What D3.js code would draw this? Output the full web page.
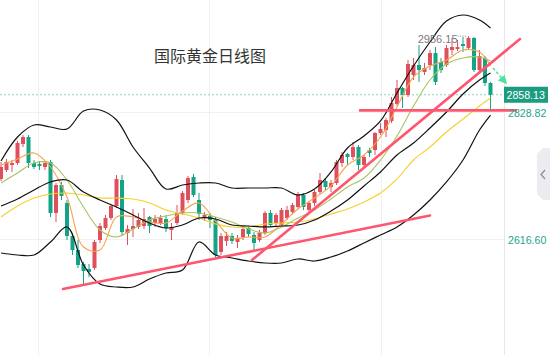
<!DOCTYPE html>
<html><head><meta charset="utf-8">
<script src="https://cdn.jsdelivr.net/npm/d3@7"></script>
<style>html,body{margin:0;padding:0;background:#fff;overflow:hidden}svg{display:block}</style>
</head><body>
<svg id="chart" width="550" height="355"></svg>
<script>
// ---------- data ----------
const chartTitle = "国际黄金日线图";
const opens = [2717.4,2732.4,2740.8,2744.1,2775.8,2787.5,2744.1,2742.4,2737.4,2745.8,
2660.6,2707.3,2677.3,2622.1,2598.7,2575.3,2567.0,2568.6,2615.4,2635.5,
2652.2,2672.2,2715.7,2627.1,2633.8,2637.2,2638.8,2653.9,2643.8,2643.8,
2650.5,2632.1,2643.8,2660.6,2682.3,2720.7,2682.3,2652.2,2655.5,2648.9,
2595.4,2613.8,2622.1,2612.1,2620.4,2635.5,2623.8,2615.4,2627.1,2660.6,
2643.8,2640.5,2652.2,2662.2,2670.6,2690.6,2665.6,2677.3,2695.6,2714.0,
2704.0,2710.7,2744.1,2759.1,2754.1,2770.8,2740.8,2765.8,2765.8,2794.2,
2799.2,2814.3,2842.7,2869.4,2857.7,2891.1,2907.9,2896.2,2907.9,2927.9,
2912.9,2907.9,2932.9,2934.6,2942.9,2936.3,2953.0,2899.5,2919.6,2877.8];
const highs = [2745.8,2750.8,2749.1,2780.9,2790.9,2790.9,2749.1,2747.4,2747.4,2749.1,
2710.7,2712.4,2682.3,2627.1,2615.4,2578.7,2575.3,2615.4,2643.8,2657.2,
2675.6,2724.0,2724.0,2640.5,2667.2,2660.6,2668.9,2655.5,2657.2,2657.2,
2657.2,2643.8,2673.9,2697.3,2722.4,2725.7,2694.0,2662.2,2660.6,2653.9,
2627.1,2628.8,2627.1,2623.8,2638.8,2638.8,2628.8,2632.1,2663.9,2665.6,
2660.6,2668.9,2672.2,2677.3,2695.6,2694.0,2680.6,2699.0,2727.4,2719.0,
2715.7,2749.1,2762.5,2760.8,2779.2,2774.2,2757.5,2769.2,2795.9,2810.9,
2819.3,2854.4,2882.8,2871.1,2916.2,2919.6,2941.3,2911.2,2932.9,2937.9,
2919.6,2941.3,2953.0,2949.6,2954.6,2956.15,2954.6,2932.9,2922.9,2879.5];
const lows = [2714.0,2729.1,2729.1,2740.8,2770.8,2735.7,2734.1,2732.4,2732.4,2653.9,
2645.5,2682.3,2615.4,2590.4,2568.6,2541.9,2553.6,2565.3,2610.4,2632.1,
2648.9,2668.9,2622.1,2607.1,2620.4,2633.8,2633.8,2627.1,2637.2,2640.5,
2628.8,2615.4,2640.5,2657.2,2677.3,2687.3,2648.9,2647.2,2635.5,2587.0,
2590.4,2605.4,2608.8,2602.1,2615.4,2620.4,2598.7,2612.1,2623.8,2637.2,
2638.8,2637.2,2648.9,2658.9,2667.2,2665.6,2660.6,2672.2,2692.3,2699.0,
2695.6,2707.3,2737.4,2740.8,2749.1,2732.4,2737.4,2754.1,2757.5,2790.9,
2787.5,2810.9,2839.3,2836.0,2854.4,2882.8,2879.5,2891.1,2899.5,2874.4,
2894.5,2904.5,2924.6,2931.3,2929.6,2932.9,2896.2,2896.2,2872.8,2832.7];
const closes = [2737.4,2745.8,2744.1,2777.5,2787.5,2744.1,2737.4,2739.1,2744.1,2660.6,
2707.3,2689.0,2622.1,2598.7,2573.7,2563.6,2562.0,2612.1,2638.8,2652.2,
2672.2,2717.4,2628.8,2633.8,2638.8,2648.9,2650.5,2638.8,2650.5,2652.2,
2635.5,2637.2,2660.6,2694.0,2719.0,2690.6,2658.9,2657.2,2648.9,2590.4,
2622.1,2622.1,2613.8,2618.8,2633.8,2625.5,2610.4,2627.1,2660.6,2640.5,
2657.2,2665.6,2665.6,2673.9,2692.3,2670.6,2677.3,2695.6,2715.7,2704.0,
2710.7,2745.8,2757.5,2754.1,2770.8,2740.8,2754.1,2760.8,2794.2,2800.9,
2816.0,2844.4,2869.4,2857.7,2909.5,2907.9,2899.5,2902.8,2927.9,2879.5,
2899.5,2936.3,2937.9,2937.9,2939.6,2953.0,2899.5,2922.9,2877.8,2858.13];

// indicator lines, sampled at these bar indices
const lineIdx = [0,3,6,9,12,15,18,21,24,27,30,33,36,39,42,45,48,51,54,57,60,63,66,69,72,75,78,81,84,87,89];
const bollUpper = [2747.4,2787.5,2807.6,2804.3,2800.9,2831.0,2832.7,2816.0,2770.8,2735.7,
2700.7,2707.3,2710.7,2710.7,2702.3,2702.3,2702.3,2702.3,2690.6,2700.7,
2729.1,2769.2,2789.2,2814.3,2861.1,2906.2,2946.3,2981.4,2991.4,2983.1,2969.7];
const bollMid = [2672.2,2683.9,2699.0,2712.4,2715.7,2695.6,2682.3,2670.6,2657.2,2643.8,
2635.5,2640.5,2652.2,2650.5,2640.5,2638.8,2637.2,2638.8,2640.5,2648.9,
2663.9,2682.3,2705.7,2729.1,2757.5,2777.5,2802.6,2829.3,2859.4,2882.8,2894.5];
const bollLower = [2593.7,2590.4,2590.4,2612.1,2637.2,2573.7,2541.9,2536.9,2536.9,2550.3,
2560.3,2565.3,2612.1,2590.4,2585.4,2580.3,2577.0,2577.0,2583.7,2580.3,
2587.0,2597.1,2610.4,2623.8,2637.2,2657.2,2682.3,2712.4,2749.1,2799.2,2824.3];
const ma5 = [2740.8,2750.8,2760.8,2737.4,2687.3,2603.7,2598.7,2653.9,2653.9,2645.5,
2643.8,2663.9,2677.3,2647.2,2618.8,2620.4,2620.4,2642.2,2667.2,2685.6,
2705.7,2740.8,2757.5,2787.5,2837.7,2887.8,2906.2,2916.2,2932.9,2929.6,2906.2];
const ma10 = [2710.7,2727.4,2744.1,2744.1,2715.7,2670.6,2632.1,2620.4,2633.8,2648.9,
2655.5,2660.6,2660.6,2653.9,2645.5,2633.8,2627.1,2637.2,2652.2,2665.6,
2683.9,2704.0,2719.0,2749.1,2789.2,2839.3,2882.8,2909.5,2919.6,2921.2,2914.5];
const ma30 = [2653.9,2672.2,2685.6,2692.3,2694.0,2690.6,2685.6,2685.6,2683.9,2677.3,
2665.6,2658.9,2652.2,2642.2,2637.2,2637.2,2642.2,2643.8,2645.5,2650.5,
2658.9,2667.2,2678.9,2694.0,2717.4,2749.1,2770.8,2795.9,2817.6,2839.3,2852.7];

// annotations (bar index, price)
const trendStartIdx = [11.27, 45.64];
const trendStartVal = [2533.5, 2582.0];
const trendEndIdx = [78.0, 94.36];
const trendEndVal = [2656.4, 2951.3];
const supportLevel = 2832.0;
const supportIdx = [65.1, 93.8];
const arrowIdx = [89.45, 91.8];
const arrowVal = [2902.8, 2877.8];

const yTicks = [2616.60, 2828.82];
const xGridIdx = [6.73, 37.8, 69.1];
const lastPrice = 2858.13;
const highPrice = 2956.15;
const highIdx = 85;

// ---------- drawing ----------
const svg = d3.select("#chart");
const W = 550, H = 355, plotR = 504;
const x = d3.scaleLinear().domain([0, 89]).range([1, 490.5]);
const y = d3.scaleLinear().domain([2616.6, 2828.82]).range([239.3, 112.3]);
const UP = "#e0505c", DOWN = "#13a385";
const numFont = "'Liberation Sans', Arial, sans-serif";

// grid
const grid = svg.append("g");
grid.selectAll("line.v").data(xGridIdx).join("line")
  .attr("x1", d => Math.round(x(d)) + 0.5).attr("x2", d => Math.round(x(d)) + 0.5)
  .attr("y1", 0).attr("y2", H).attr("stroke", "#f0f0f0").attr("stroke-width", 1);
grid.selectAll("line.h").data(yTicks).join("line")
  .attr("x1", 0).attr("x2", plotR)
  .attr("y1", d => Math.round(y(d)) + 0.5).attr("y2", d => Math.round(y(d)) + 0.5)
  .attr("stroke", "#f0f0f0").attr("stroke-width", 1);
svg.append("line").attr("x1", plotR + 0.5).attr("x2", plotR + 0.5).attr("y1", 0).attr("y2", H)
  .attr("stroke", "#e8e8e8");

// title
svg.append("text").attr("x", 154).attr("y", 62).text(chartTitle)
  .attr("font-family", "'Noto Sans CJK SC', sans-serif").attr("font-size", 16).attr("fill", "#333");

// current price dotted line
svg.append("line").attr("x1", 0).attr("x2", plotR).attr("y1", y(lastPrice)).attr("y2", y(lastPrice))
  .attr("stroke", "#8ad3c4").attr("stroke-width", 1).attr("stroke-dasharray", "2,2");

// candles
const bars = d3.range(opens.length).map(i => ({i, o: opens[i], h: highs[i], l: lows[i], c: closes[i]}));
const bw = 4;
const cg = svg.append("g");
cg.selectAll("line").data(bars).join("line")
  .attr("x1", d => x(d.i)).attr("x2", d => x(d.i))
  .attr("y1", d => y(d.h)).attr("y2", d => y(d.l))
  .attr("stroke", d => d.c >= d.o ? UP : DOWN).attr("stroke-width", 1);
cg.selectAll("rect").data(bars).join("rect")
  .attr("x", d => x(d.i) - bw / 2).attr("width", bw)
  .attr("y", d => y(Math.max(d.o, d.c)))
  .attr("height", d => Math.max(1, Math.abs(y(d.o) - y(d.c))))
  .attr("fill", d => d.c >= d.o ? UP : DOWN);

// indicator lines
const lineGen = d3.line().x(d => x(d[0])).y(d => y(d[1])).curve(d3.curveCatmullRom.alpha(0.5));
const series = [
  {v: ma30, c: "#f7cf2a", w: 1.1},
  {v: ma10, c: "#a9c35f", w: 1.1},
  {v: ma5, c: "#f7a24e", w: 1.1},
  {v: bollLower, c: "#111", w: 1.2},
  {v: bollMid, c: "#111", w: 1.2},
  {v: bollUpper, c: "#111", w: 1.2}
];
series.forEach(s => {
  svg.append("path").datum(lineIdx.map((k, j) => [k, s.v[j]]))
    .attr("d", lineGen).attr("fill", "none").attr("stroke", s.c).attr("stroke-width", s.w);
});

// trend lines
const tl = trendStartIdx.map((d, k) => ({x1: d, y1: trendStartVal[k], x2: trendEndIdx[k], y2: trendEndVal[k]}));
svg.selectAll("line.trend").data(tl).join("line")
  .attr("x1", d => x(d.x1)).attr("y1", d => y(d.y1)).attr("x2", d => x(d.x2)).attr("y2", d => y(d.y2))
  .attr("stroke", "#ff5670").attr("stroke-width", 2.6).attr("stroke-linecap", "round");
svg.append("line").attr("x1", x(supportIdx[0])).attr("x2", x(supportIdx[1]))
  .attr("y1", y(supportLevel)).attr("y2", y(supportLevel))
  .attr("stroke", "#ff5670").attr("stroke-width", 2.6);

// green dashed arrow
const defs = svg.append("defs");
defs.append("marker").attr("id", "arr").attr("viewBox", "0 0 10 10").attr("refX", 8).attr("refY", 5)
  .attr("markerWidth", 6).attr("markerHeight", 6).attr("orient", "auto-start-reverse")
  .append("path").attr("d", "M0,0 L10,5 L0,10 Z").attr("fill", "#4fe0a2");
svg.append("line").attr("x1", x(arrowIdx[0])).attr("y1", y(arrowVal[0]))
  .attr("x2", x(arrowIdx[1])).attr("y2", y(arrowVal[1]))
  .attr("stroke", "#4fe0a2").attr("stroke-width", 1.5).attr("stroke-dasharray", "3,2")
  .attr("marker-end", "url(#arr)");

// high label
const hy = y(highPrice);
svg.append("line").attr("x1", x(highIdx) - 11).attr("x2", x(highIdx) - 1).attr("y1", hy).attr("y2", hy)
  .attr("stroke", "#888").attr("stroke-width", 1).attr("stroke-dasharray", "1,1.5");
svg.append("text").attr("x", x(highIdx) - 11).attr("y", hy + 6.5).attr("text-anchor", "end")
  .text(highPrice.toFixed(2)).attr("font-family", numFont).attr("font-size", 11).attr("fill", "#7a7a7a");

// axis labels
svg.selectAll("text.tick").data(yTicks).join("text")
  .attr("x", 508).attr("y", d => y(d) + 4.5).text(d => d.toFixed(2))
  .attr("font-family", numFont).attr("font-size", 10.6).attr("fill", "#22a589");

// current price box
const py = y(lastPrice);
svg.append("rect").attr("x", plotR).attr("y", py - 8).attr("width", 44).attr("height", 16)
  .attr("fill", "#1b9c80");
svg.append("text").attr("x", 506.5).attr("y", py + 4).text(lastPrice.toFixed(2))
  .attr("font-family", numFont).attr("font-size", 10.6).attr("fill", "#fff");

// side tab
svg.append("path").attr("d", "M550,148 L543,148 L537,154 L537,194 L543,200 L550,200 Z").attr("fill", "#ececf0");
svg.append("path").attr("d", "M545,170 L541,174.5 L545,179").attr("fill", "none")
  .attr("stroke", "#8a8a95").attr("stroke-width", 1.2);
</script>
</body></html>
